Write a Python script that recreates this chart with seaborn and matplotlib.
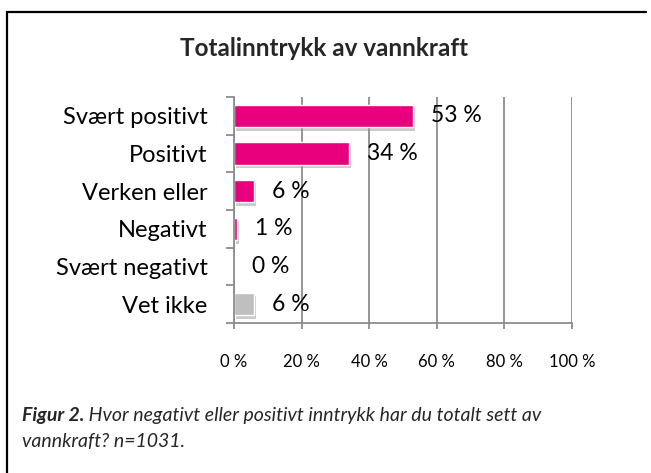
import numpy as np
import pandas as pd
import matplotlib
matplotlib.use("Agg")
import matplotlib.pyplot as plt
import matplotlib.patheffects as pe
from matplotlib.lines import Line2D
from matplotlib.ticker import FixedLocator, PercentFormatter
import seaborn as sns

CATEGORIES = ["Svært positivt", "Positivt", "Verken eller", "Negativt", "Svært negativt", "Vet ikke"]
VALUES = [53, 34, 6, 1, 0, 6]
BAR_COLORS = ["#E8007D", "#E8007D", "#E8007D", "#E8007D", "#E8007D", "#BFBFBF"]
X_TICKS = [0, 20, 40, 60, 80, 100]
TITLE = "Totalinntrykk av vannkraft"
CAPTION_BOLD = "Figur 2."
CAPTION_REST = " Hvor negativt eller positivt inntrykk har du totalt sett av"
CAPTION_LINE2 = "vannkraft? n=1031."

sns.set_theme(style="white")
plt.rcParams["font.family"] = ["Lato", "DejaVu Sans"]

df = pd.DataFrame({"kategori": CATEGORIES, "andel": VALUES})

fig = plt.figure(figsize=(6.51, 4.73), dpi=100)
ax = fig.add_axes([234 / 651, 1 - 323 / 473, 338 / 651, 226 / 473])

sns.barplot(data=df, y="kategori", x="andel", hue="kategori", palette=BAR_COLORS,
            legend=False, width=0.6, ax=ax, saturation=1)

for patch in ax.patches:
    patch.set_path_effects([pe.SimplePatchShadow(offset=(1.5, -2.5), shadow_rgbFace="#999999", alpha=0.5),
                            pe.Normal()])

grid_col = "#8C8C8C"
ax.set_xlim(0, 100)
ax.set_ylim(len(CATEGORIES) - 0.5, -0.5)
ax.xaxis.set_major_locator(FixedLocator(X_TICKS))
ax.xaxis.set_major_formatter(PercentFormatter(decimals=0, symbol=" %"))
ax.grid(axis="x", color=grid_col, linewidth=1.3)
ax.set_axisbelow(True)

for side in ["top", "right"]:
    ax.spines[side].set_visible(False)
for side in ["left", "bottom"]:
    ax.spines[side].set_color(grid_col)
    ax.spines[side].set_linewidth(1.3)

ax.set_xlabel("")
ax.set_ylabel("")
ax.tick_params(axis="x", which="major", length=4.5, width=1.3, color=grid_col, direction="out",
               bottom=True, pad=18, labelsize=12, labelcolor="black")
ax.tick_params(axis="y", which="major", length=0, pad=19, labelsize=17, labelcolor="black")
ax.yaxis.set_minor_locator(FixedLocator(np.arange(-0.5, len(CATEGORIES), 1.0)))
ax.tick_params(axis="y", which="minor", length=6, width=1.3, color=grid_col, direction="out", left=True)

for container in ax.containers:
    ax.bar_label(container, labels=[f"{v:.0f} %" for v in container.datavalues], padding=13,
                 fontsize=16.5, color="black")

fig.text(0.498, 1 - 48 / 473, TITLE, ha="center", va="center", fontsize=17.5, fontweight="bold")

cap_size = 14
cap1 = fig.text(22 / 651, 1 - 415 / 473, CAPTION_BOLD, ha="left", va="center", fontsize=cap_size,
                fontweight="bold", style="italic")
fig.canvas.draw()
bb = cap1.get_window_extent(renderer=fig.canvas.get_renderer())
fig.text(bb.x1 / fig.bbox.width, 1 - 415 / 473, CAPTION_REST, ha="left", va="center",
         fontsize=cap_size, style="italic")
fig.text(22 / 651, 1 - 441 / 473, CAPTION_LINE2, ha="left", va="center", fontsize=cap_size, style="italic")

fig.add_artist(Line2D([7 / 651, 646 / 651], [1 - 12 / 473, 1 - 12 / 473], color="black", linewidth=1.6))
fig.add_artist(Line2D([7 / 651, 7 / 651], [1 - 12 / 473, 0], color="black", linewidth=1.6))

fig.savefig("out.png", dpi=100, facecolor="white")
